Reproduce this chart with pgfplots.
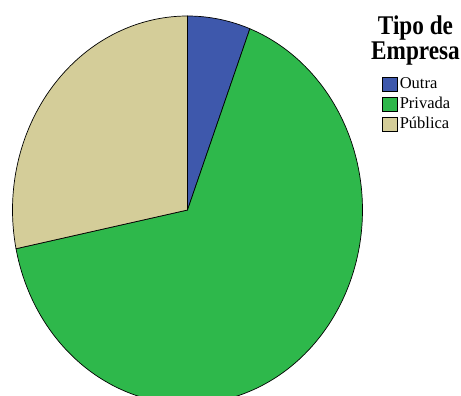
\documentclass[border=0pt]{standalone}
\usepackage{graphicx}
\usepackage{pgfplots}
\pgfplotsset{compat=1.18}
\usepackage{fontspec}
\setmainfont{Liberation Serif}
\definecolor{cOutra}{RGB}{62,88,172}
\definecolor{cPrivada}{RGB}{46,184,75}
\definecolor{cPublica}{RGB}{212,205,153}
% percentages
\def\vOutra{5.8}
\def\vPrivada{66.0}
\def\vPublica{28.2}
\begin{document}
\begin{tikzpicture}
\pgfmathsetmacro{\aA}{90}
\pgfmathsetmacro{\aB}{90-3.6*\vOutra}
\pgfmathsetmacro{\aC}{\aB-3.6*\vPrivada}
\pgfmathsetmacro{\aD}{\aC-3.6*\vPublica}
\begin{axis}[
  name=pie,
  scale only axis, width=461bp, height=396bp,
  xmin=-187.5, xmax=273.5, ymin=-186, ymax=210,
  hide axis, clip=true,
  legend style={at={(axis cs:194.2,135.7)}, anchor=north west, draw=none, fill=none,
    inner sep=0pt, outer sep=0pt, font=\fontsize{16.5bp}{20bp}\selectfont,
    nodes={inner sep=0pt, text height=14bp, text depth=6bp},
    /tikz/every odd column/.style={column sep=2.5bp}, row sep=0pt},
  legend cell align=left,
  legend image code/.code={\draw[#1, draw=black, line width=0.6bp] (0bp,-7bp) rectangle (15bp,7bp);},
]
\addplot[fill=cOutra, draw=black, line width=0.7bp, domain=\aB:\aA, samples=30, variable=\t]
  ({175*cos(\t)},{194*sin(\t)}) -- (axis cs:0,0) -- cycle;
\addlegendentry{Outra}
\addplot[fill=cPrivada, draw=black, line width=0.7bp, domain=\aC:\aB, samples=200, variable=\t]
  ({175*cos(\t)},{194*sin(\t)}) -- (axis cs:0,0) -- cycle;
\addlegendentry{Privada}
\addplot[fill=cPublica, draw=black, line width=0.7bp, domain=\aD:\aC, samples=100, variable=\t]
  ({175*cos(\t)},{194*sin(\t)}) -- (axis cs:0,0) -- cycle;
\addlegendentry{Pública}
\node[anchor=base, inner sep=0pt, font=\fontsize{27bp}{27bp}\selectfont\bfseries] at (axis cs:228,175) {\scalebox{0.86}[1]{Tipo de}};
\node[anchor=base, inner sep=0pt, font=\fontsize{27bp}{27bp}\selectfont\bfseries] at (axis cs:228,150) {\scalebox{0.86}[1]{Empresa}};
\end{axis}
\pgfresetboundingbox
\path[use as bounding box] (pie.south west) rectangle (pie.north east);
\end{tikzpicture}
\end{document}
